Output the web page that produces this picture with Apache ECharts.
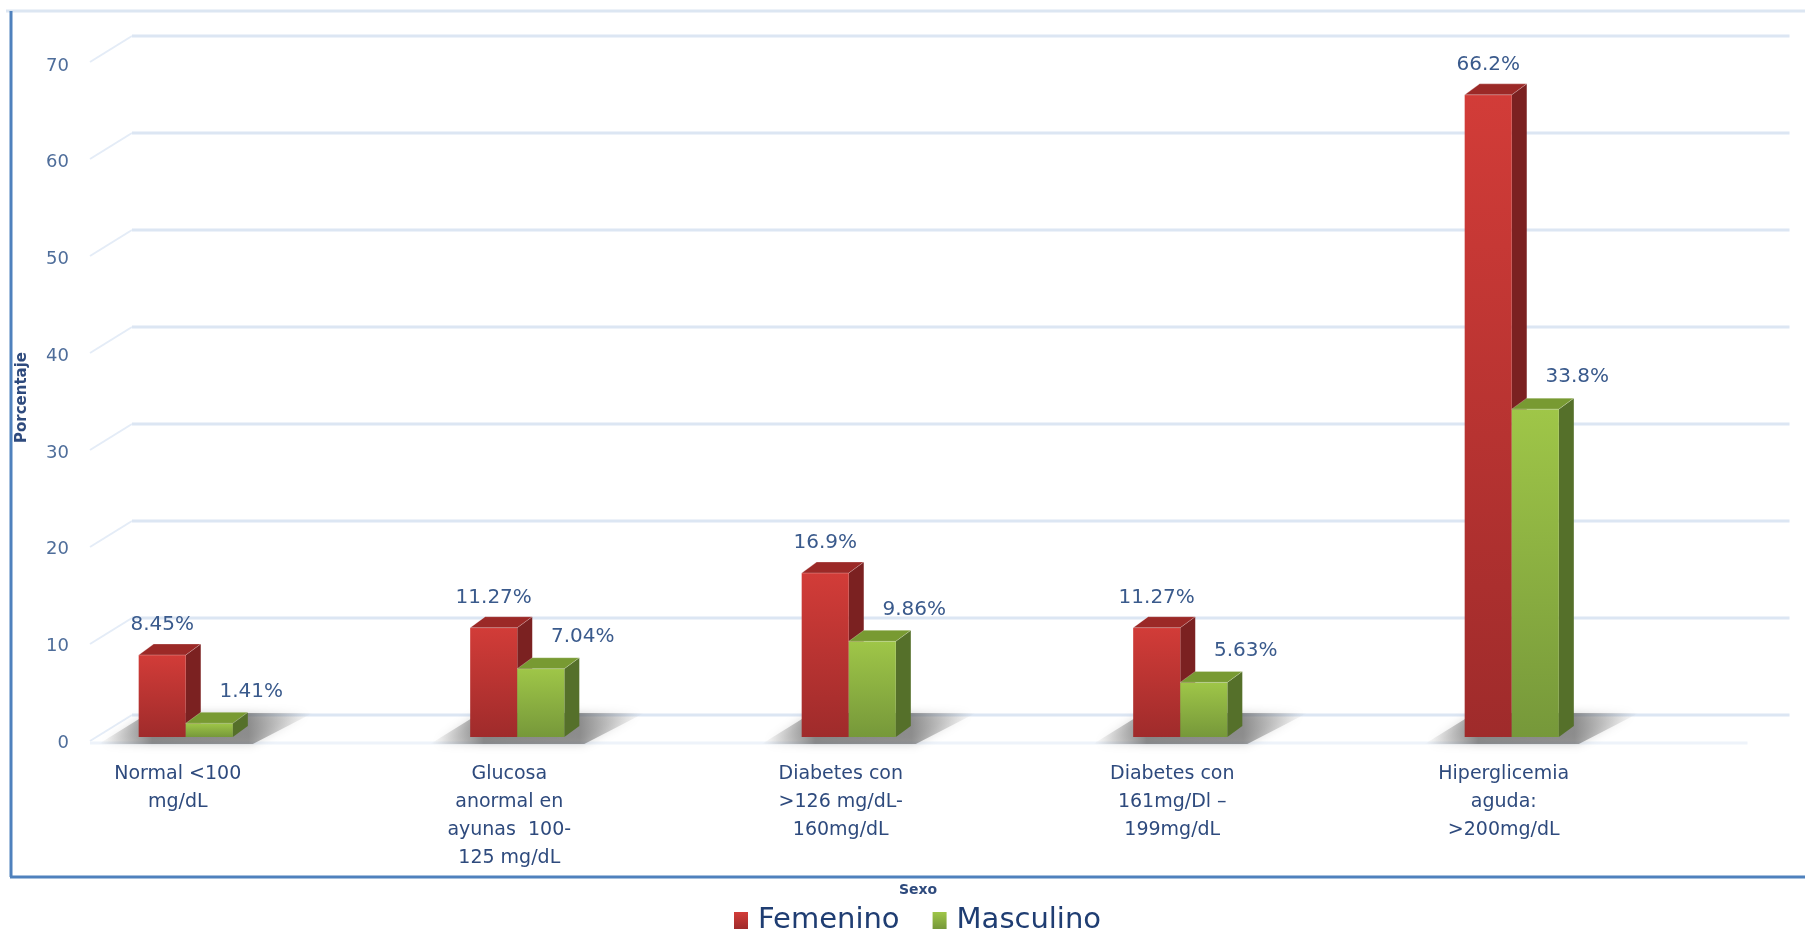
<!DOCTYPE html>
<html>
<head>
<meta charset="utf-8">
<title>Glucosa por sexo</title>
<script src="https://cdn.jsdelivr.net/npm/echarts@6/dist/echarts.min.js"></script>
<style>
  html, body { margin: 0; padding: 0; background: #fff; }
  #chart { width: 1805px; height: 933px; }
</style>
</head>
<body>
<div id="chart"></div>
<script>
// datos
const CATEGORIES = [
  'Normal <100\nmg/dL',
  'Glucosa\nanormal en\nayunas  100-\n125 mg/dL',
  'Diabetes con\n>126 mg/dL-\n160mg/dL',
  'Diabetes con\n161mg/Dl \u2013\n199mg/dL',
  'Hiperglicemia\naguda:\n>200mg/dL',
];
const FEMENINO = [8.45, 11.27, 16.9, 11.27, 66.2];
const MASCULINO = [1.41, 7.04, 9.86, 5.63, 33.8];
const Y_TICKS = [0, 10, 20, 30, 40, 50, 60, 70];

const FONT = 'DejaVu Sans';
const BAR_RATIO = 0.142; // ancho de barra / ancho de categoria
const DEPTH_X = 15; // profundidad de la barra 3D
const DEPTH_Y = -11;

const chart = echarts.init(document.getElementById('chart'));

const RED = {
  front: ['#d23c38', '#9f2b2b'],
  side: '#7b2121',
  top: '#9b2927',
  label: [0, -30],
};
const GREEN = {
  front: ['#9fc648', '#76983a'],
  side: '#55702a',
  top: '#789a32',
  label: [42, -32],
};

/**
 * barra 3D (frente, lado y tapa) + etiqueta
 */
function renderBar(side, c) {
  return function (params, api) {
    const cat = api.value(0);
    const val = api.value(1);
    const base = api.coord([cat, 0]);
    const top = api.coord([cat, val]);
    const bw = api.size([1, 0])[0] * BAR_RATIO;
    const x0 = side === 0 ? base[0] - bw : base[0];
    const x1 = x0 + bw;
    const y0 = base[1];
    const y1 = top[1];
    return {
      type: 'group',
      children: [
        {
          type: 'polygon',
          shape: { points: [[x1, y1], [x1 + DEPTH_X, y1 + DEPTH_Y], [x1 + DEPTH_X, y0 + DEPTH_Y], [x1, y0]] },
          style: { fill: c.side },
        },
        {
          type: 'rect',
          shape: { x: x0, y: y1, width: bw, height: y0 - y1 },
          style: {
            fill: new echarts.graphic.LinearGradient(0, 0, 0, 1, [
              { offset: 0, color: c.front[0] },
              { offset: 1, color: c.front[1] },
            ]),
          },
        },
        {
          type: 'polygon',
          shape: { points: [[x0, y1], [x0 + DEPTH_X, y1 + DEPTH_Y], [x1 + DEPTH_X, y1 + DEPTH_Y], [x1, y1]] },
          style: { fill: c.top, stroke: 'rgba(255,255,255,0.25)', lineWidth: 1 },
        },
        {
          type: 'text',
          x: (x0 + x1) / 2 + c.label[0],
          y: y1 + c.label[1],
          style: {
            text: val + '%',
            fill: '#3a5a8c',
            fontSize: 20,
            fontFamily: FONT,
            align: 'center',
            verticalAlign: 'middle',
          },
        },
      ],
    };
  };
}

/**
 * sombra bajo cada par de barras
 */
function renderShadow(params, api) {
  const base = api.coord([api.value(0), 0]);
  const bw = api.size([1, 0])[0] * BAR_RATIO;
  const xl = base[0] - bw;
  const xr = base[0] + bw + DEPTH_X;
  const y = base[1];
  return {
    type: 'polygon',
    shape: { points: [[xl - 40, y + 7], [xr + 5, y + 7], [xr + 65, y - 24], [xl + 10, y - 24]] },
    style: {
      fill: new echarts.graphic.LinearGradient(0, 0, 1, 0, [
        { offset: 0, color: 'rgba(130,130,130,0)' },
        { offset: 0.25, color: 'rgba(95,95,95,0.65)' },
        { offset: 0.7, color: 'rgba(95,95,95,0.6)' },
        { offset: 1, color: 'rgba(130,130,130,0)' },
      ]),
      shadowBlur: 10,
      shadowColor: 'rgba(0,0,0,0.3)',
    },
  };
}

/**
 * lineas de fondo (pared trasera + diagonales)
 */
function renderWall(params, api) {
  const cs = params.coordSys;
  const v = api.value(1);
  const yf = api.coord([0, v])[1];
  const children = [
    {
      type: 'line',
      shape: { x1: cs.x + 70, y1: yf + 4, x2: cs.x + 112, y2: yf - 22 },
      style: { stroke: '#e4ecf7', lineWidth: 2 },
    },
    {
      type: 'line',
      shape: { x1: cs.x + 112, y1: yf - 22, x2: cs.x + cs.width + 112, y2: yf - 22 },
      style: { stroke: '#dce6f3', lineWidth: 3 },
    },
  ];
  if (v === 0) {
    children.push({
      type: 'line',
      shape: { x1: cs.x + 70, y1: yf + 6, x2: cs.x + cs.width + 70, y2: yf + 6 },
      style: { stroke: '#eef3fa', lineWidth: 3 },
    });
  }
  return { type: 'group', children };
}

const option = {
  backgroundColor: '#ffffff',
  animation: false,
  textStyle: { fontFamily: FONT },
  graphic: [
    { type: 'line', shape: { x1: 6, y1: 11, x2: 1805, y2: 11 }, style: { stroke: '#dce6f2', lineWidth: 3 } },
    { type: 'line', shape: { x1: 11, y1: 11, x2: 11, y2: 877 }, style: { stroke: '#4f81bd', lineWidth: 3 } },
    { type: 'line', shape: { x1: 10, y1: 877, x2: 1805, y2: 877 }, style: { stroke: '#4f81bd', lineWidth: 3 } },
    {
      type: 'text',
      x: 918,
      y: 890,
      style: {
        text: 'Sexo',
        fill: '#2e4a7d',
        fontSize: 14,
        fontWeight: 'bold',
        fontFamily: FONT,
        align: 'center',
        verticalAlign: 'middle',
      },
    },
  ],
  // grid 0: barras (plano frontal); grid 1: solo etiquetas del eje Y
  grid: [
    { left: 20, right: 127.5, top: 58, bottom: 196, outerBoundsMode: 'none' },
    { left: 20, right: 127.5, top: 66, bottom: 190, outerBoundsMode: 'none' },
  ],
  legend: {
    left: 734,
    top: 906,
    padding: 0,
    icon: 'rect',
    itemWidth: 14,
    itemHeight: 17,
    itemGap: 33,
    data: ['Femenino', 'Masculino'],
    textStyle: { fontSize: 29, color: '#1f3d72', fontFamily: FONT, padding: [0, 0, 0, 5] },
  },
  xAxis: [
    {
      type: 'category',
      gridIndex: 0,
      data: CATEGORIES,
      axisLine: { show: false },
      axisTick: { show: false },
      axisLabel: {
        interval: 0,
        margin: 23,
        fontSize: 19,
        lineHeight: 28,
        color: '#2e4a7d',
        fontFamily: FONT,
        padding: [0, 16, 0, 0],
      },
    },
    {
      type: 'category',
      gridIndex: 1,
      data: CATEGORIES,
      show: false,
    },
  ],
  yAxis: [
    {
      type: 'value',
      gridIndex: 0,
      min: 0,
      max: 70,
      interval: 10,
      splitLine: { show: false },
      axisLine: { show: false },
      axisTick: { show: false },
      axisLabel: { show: false },
      name: 'Porcentaje',
      nameLocation: 'middle',
      nameRotate: 90,
      nameGap: -10,
      nameTextStyle: { fontSize: 15, fontWeight: 'bold', color: '#2e4a7d', fontFamily: FONT },
    },
    {
      type: 'value',
      gridIndex: 1,
      min: 0,
      max: 70,
      interval: 10,
      splitLine: { show: false },
      axisLine: { show: false },
      axisTick: { show: false },
      axisLabel: {
        inside: true,
        margin: 49,
        align: 'right',
        fontSize: 18,
        color: '#4e6d9a',
        fontFamily: FONT,
      },
    },
  ],
  series: [
    {
      type: 'custom',
      name: 'pared',
      z: 0,
      silent: true,
      renderItem: renderWall,
      data: Y_TICKS.map((t) => [0, t]),
    },
    {
      type: 'custom',
      name: 'sombra',
      z: 1,
      silent: true,
      renderItem: renderShadow,
      data: CATEGORIES.map((c, i) => [i, 0]),
    },
    {
      type: 'custom',
      name: 'Femenino',
      z: 2,
      itemStyle: { color: new echarts.graphic.LinearGradient(0, 0, 0, 1, [
        { offset: 0, color: RED.front[0] }, { offset: 1, color: RED.front[1] },
      ]) },
      renderItem: renderBar(0, RED),
      data: FEMENINO.map((v, i) => [i, v]),
    },
    {
      type: 'custom',
      name: 'Masculino',
      z: 3,
      itemStyle: { color: new echarts.graphic.LinearGradient(0, 0, 0, 1, [
        { offset: 0, color: GREEN.front[0] }, { offset: 1, color: GREEN.front[1] },
      ]) },
      renderItem: renderBar(1, GREEN),
      data: MASCULINO.map((v, i) => [i, v]),
    },
  ],
};

chart.setOption(option);
</script>
</body>
</html>
